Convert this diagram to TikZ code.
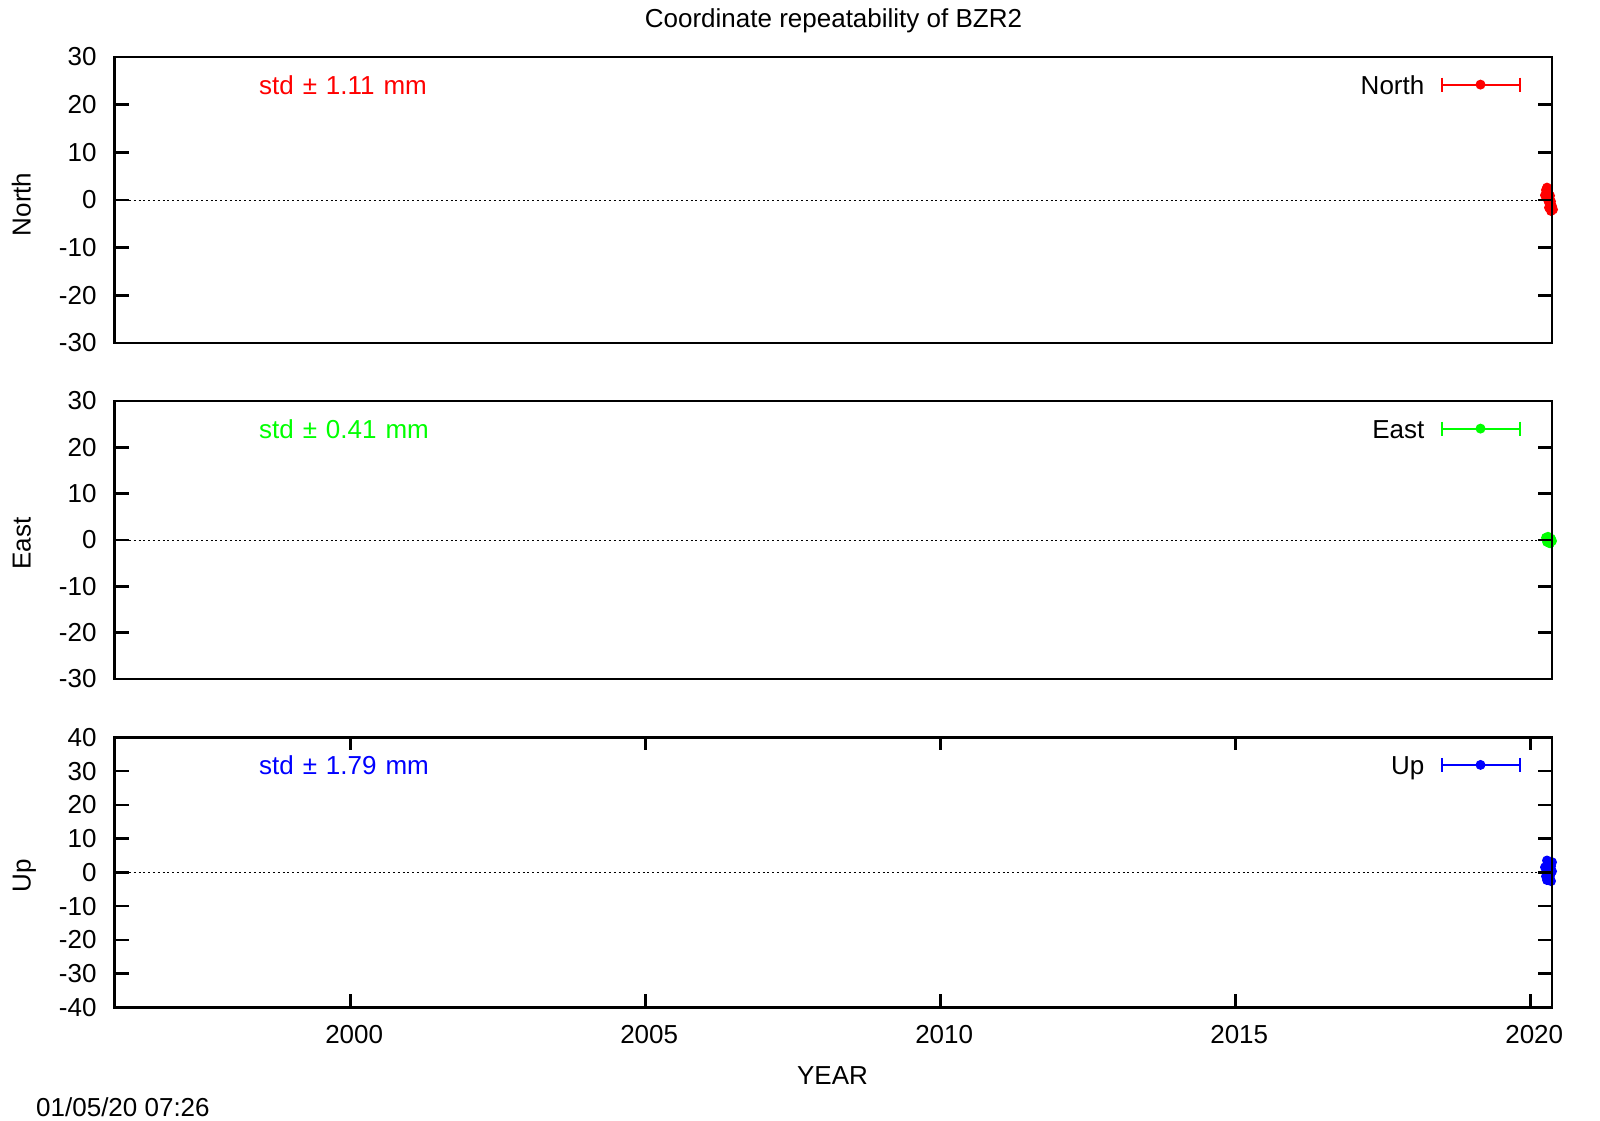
\documentclass[tikz,border=0pt]{standalone}
\usepackage{fontspec}
\setmainfont{Liberation Sans}
\usetikzlibrary{positioning}
\definecolor{northred}{RGB}{255,0,0}
\definecolor{eastgreen}{RGB}{0,255,0}
\definecolor{upblue}{RGB}{0,0,255}

\tikzset{
	plaintext/.style = {font=\fontsize{26}{30}\selectfont, inner sep=0pt},
	ticklabel/.style = {plaintext, anchor=east},
	frameline/.style = {line width=2.5pt},
	tickline/.style = {line width=2.5pt},
	zeroline/.style = {line width=1pt, dash pattern=on 2pt off 2.8pt},
	keybar/.style = {line width=2pt}
}

\begin{document}
\begin{tikzpicture}[x=1pt, y=-1pt]
	\useasboundingbox (0,0) rectangle (1600,1120);
	\node (title) [plaintext, anchor=base] at (833.5,27.3) {Coordinate repeatability of BZR2};

	% data, drawn below the frames
	\foreach \px/\v in {1545/1.0, 1546/2.1, 1547/2.6, 1548/1.6, 1547/0.6, 1548/0.0, 1549/-0.5,
		1550/-1.0, 1549/-1.6, 1551/-2.3, 1552/-1.3, 1551/-0.3, 1550/0.9, 1553/-2.0}
		\fill[northred] (\px,{200-\v*4.767}) circle (5pt);
	\foreach \px/\v in {1546/0.5, 1547/-0.4, 1548/0.7, 1549/0.1, 1550/-0.7, 1551/0.3, 1552/-0.2, 1549/-0.6}
		\fill[eastgreen] (\px,{540-\v*4.633}) circle (5pt);
	\foreach \px/\v in {1545/1.5, 1547/3.5, 1548/2.6, 1548/0.8, 1549/-0.4, 1546/-1.2, 1550/-2.0,
		1551/-2.6, 1552/0.3, 1551/1.8, 1550/-1.0, 1552/3.0, 1547/-2.3}
		\fill[upblue] (\px,{872.3-\v*3.375}) circle (5pt);

	% panels
	\foreach \name/\top/\bot/\zero/\lim/\col/\key/\std/\mid in {
		north/57/343/200/30/northred/North/1.11/204.4,
		east/401/679/540/30/eastgreen/East/0.41/543.7,
		up/737.3/1007.3/872.3/40/upblue/Up/1.79/875.8} {
		\pgfmathsetmacro{\scl}{(\bot-\top)/(2*\lim)}
		\pgfmathtruncatemacro{\nxt}{-\lim+10}
		\draw[zeroline] (114.5,\zero) -- (1552,\zero);
		\foreach \v in {-\lim,\nxt,...,\lim} {
			\pgfmathsetmacro{\yy}{\zero-\v*\scl}
			\draw[tickline] (114.5,\yy) -- ++(14,0);
			\draw[tickline] (1552,\yy) -- ++(-14,0);
			\node (\name y\v) [ticklabel] at (96.7,\yy) {\v};
		}
		\draw[frameline] (114.5,\top) rectangle (1552,\bot);
		\node (\name axis) [plaintext, rotate=90, anchor=base] at (30.7,\mid) {\key};
		\node (\name std) [plaintext, anchor=base west, text=\col] at (259,\top+37)
			{std\hspace{1.7pt} ±\hspace{1.7pt} \std\hspace{1.7pt} mm};
		% key
		\node (\name key) [plaintext, anchor=base east] at (1424.5,\top+37) {\key};
		\coordinate (\name barl) at (1441.7,\top+27.6);
		\coordinate (\name barr) at (1520,\top+27.6);
		\draw[keybar, \col] (\name barl) -- (\name barr);
		\draw[keybar, \col] ([yshift=7pt]\name barl) -- ([yshift=-7pt]\name barl);
		\draw[keybar, \col] ([yshift=7pt]\name barr) -- ([yshift=-7pt]\name barr);
		\fill[\col] (1480.5,\top+27.6) circle (5pt);
	}

	% year axis of the last panel
	\foreach \yr in {2000,2005,...,2020} {
		\pgfmathsetmacro{\xx}{350.7+(\yr-2000)*59}
		\draw[tickline] (\xx,1007.3) -- ++(0,-13);
		\draw[tickline] (\xx,737.3) -- ++(0,13);
		\node (x\yr) [plaintext, anchor=base] at (\xx+3.5,1043.3) {\yr};
	}
	\node (year) [plaintext, anchor=base] at (832.5,1084.3) {YEAR};
	\node (stamp) [plaintext, anchor=base west] at (36,1116) {01/05/20 07:26};
\end{tikzpicture}
\end{document}
